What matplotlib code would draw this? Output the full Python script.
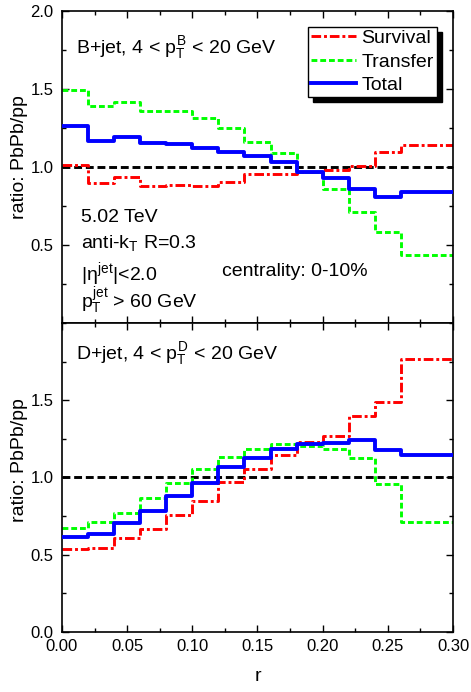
import numpy as np
import matplotlib
matplotlib.use('Agg')
import matplotlib.pyplot as plt
from matplotlib.ticker import MultipleLocator

plt.rcParams['font.family'] = ['Liberation Sans', 'DejaVu Sans']
plt.rcParams['mathtext.fontset'] = 'custom'
plt.rcParams['mathtext.rm'] = 'Liberation Sans'
plt.rcParams['mathtext.it'] = 'Liberation Sans'
plt.rcParams['mathtext.bf'] = 'Liberation Sans:bold'

# bin edges in r
r_edges = [0.00, 0.02, 0.04, 0.06, 0.08, 0.10, 0.12, 0.14,
           0.16, 0.18, 0.20, 0.22, 0.24, 0.26, 0.28, 0.30]

# B+jet ratios (one value per bin)
b_survival = [1.015, 0.90, 0.936, 0.879, 0.885, 0.88, 0.904, 0.953,
              0.953, 0.97, 0.979, 1.006, 1.098, 1.138, 1.138]
b_transfer = [1.496, 1.393, 1.417, 1.357, 1.357, 1.313, 1.251, 1.160,
              1.092, 0.968, 0.858, 0.713, 0.582, 0.437, 0.437]
b_total = [1.266, 1.166, 1.194, 1.156, 1.149, 1.124, 1.096, 1.070,
           1.032, 0.971, 0.932, 0.858, 0.805, 0.841, 0.841]

# D+jet ratios
d_survival = [0.535, 0.54, 0.605, 0.666, 0.758, 0.845, 0.970, 1.056,
              1.144, 1.23, 1.271, 1.395, 1.486, 1.764, 1.764]
d_transfer = [0.672, 0.708, 0.766, 0.869, 0.966, 1.052, 1.131, 1.185,
              1.213, 1.202, 1.185, 1.127, 0.955, 0.713, 0.713]
d_total = [0.616, 0.634, 0.702, 0.784, 0.880, 0.966, 1.067, 1.127,
           1.185, 1.213, 1.22, 1.239, 1.176, 1.144, 1.144]

labels = ['Survival', 'Transfer', 'Total']


def step_line(ax, vals, **kw):
    # repeat last value so the final bin reaches r = 0.30
    return ax.step(r_edges, list(vals) + [vals[-1]], where='post', **kw)[0]


def draw_panel(ax, surv, trans, total):
    ax.axhline(1.0, color='black', lw=2.1, ls=(0, (2.7, 1.3)), zorder=1)
    h1 = step_line(ax, surv, color='#ff0000', lw=2.1, ls=(0, (3.3, 1.0, 1.0, 1.0)), zorder=2)
    h2 = step_line(ax, trans, color='#00ff00', lw=2.1, ls=(0, (2.0, 1.0)), zorder=2)
    h3 = step_line(ax, total, color='#0000ff', lw=2.8, zorder=3)
    ax.set_xlim(0, 0.30)
    ax.set_ylim(0, 2.0)
    ax.xaxis.set_major_locator(MultipleLocator(0.05))
    ax.xaxis.set_minor_locator(MultipleLocator(0.025))
    ax.yaxis.set_major_locator(MultipleLocator(0.5))
    ax.yaxis.set_minor_locator(MultipleLocator(0.25))
    ax.tick_params(which='both', direction='in', top=True, right=True,
                   width=1.0, labelsize=12)
    ax.tick_params(which='major', length=5)
    ax.tick_params(which='minor', length=3)
    ax.tick_params(axis='y', pad=6)
    ax.tick_params(axis='x', pad=5)
    for s in ax.spines.values():
        s.set_linewidth(1.2)
    ax.set_ylabel('ratio: PbPb/pp', fontsize=14)
    return [h1, h2, h3]


fig = plt.figure(figsize=(4.71, 6.92), dpi=100)
ax1 = fig.add_axes([0.1316, 0.5332, 0.8302, 0.4509])
ax2 = fig.add_axes([0.1316, 0.0871, 0.8302, 0.4461])

handles = draw_panel(ax1, b_survival, b_transfer, b_total)
draw_panel(ax2, d_survival, d_transfer, d_total)

ax1.tick_params(axis='x', labelbottom=False)
ax1.set_yticks([0.5, 1.0, 1.5, 2.0])
ax1.set_yticklabels(['0.5', '1.0', '1.5', '2.0'])
ax2.set_yticks([0.0, 0.5, 1.0, 1.5])
ax2.set_yticklabels(['0.0', '0.5', '1.0', '1.5'])
ax2.set_xticks([0.0, 0.05, 0.10, 0.15, 0.20, 0.25, 0.30])
ax2.set_xticklabels(['0.00', '0.05', '0.10', '0.15', '0.20', '0.25', '0.30'])

ax1.yaxis.set_label_coords(-0.088, 0.532)
ax2.yaxis.set_label_coords(-0.088, 0.557)
ax2.set_xlabel('r', fontsize=14, labelpad=10)

leg = ax1.legend(handles, labels, loc='upper right', bbox_to_anchor=(0.958, 0.950),
                 borderaxespad=0, fontsize=14, handlelength=2.35, handletextpad=0.25,
                 labelspacing=0.3, borderpad=0.15, fancybox=False, framealpha=1,
                 edgecolor='black',
                 shadow={'ox': 4, 'oy': -4, 'color': 'black', 'alpha': 1})
leg.get_frame().set_linewidth(1.0)

fs = 14
ax1.text(0.036, 0.866, r'B+jet, 4 < $p_\mathrm{T}^\mathrm{B}$ < 20 GeV', transform=ax1.transAxes,
         fontsize=fs, va='baseline')
ax1.text(0.048, 0.325, '5.02 TeV', transform=ax1.transAxes, fontsize=fs, va='baseline')
ax1.text(0.048, 0.241, r'anti-k$_\mathrm{T}$ R=0.3', transform=ax1.transAxes, fontsize=fs, va='baseline')
ax1.text(0.048, 0.138, r'|$\eta^\mathrm{jet}$|<2.0', transform=ax1.transAxes, fontsize=fs, va='baseline')
ax1.text(0.048, 0.047, r'$p_\mathrm{T}^\mathrm{jet}$ > 60 GeV', transform=ax1.transAxes, fontsize=fs, va='baseline')
ax1.text(0.408, 0.151, 'centrality: 0-10%', transform=ax1.transAxes, fontsize=fs, va='baseline')
ax2.text(0.036, 0.883, r'D+jet, 4 < $p_\mathrm{T}^\mathrm{D}$ < 20 GeV', transform=ax2.transAxes,
         fontsize=fs, va='baseline')

fig.savefig('out.png', dpi=100)
